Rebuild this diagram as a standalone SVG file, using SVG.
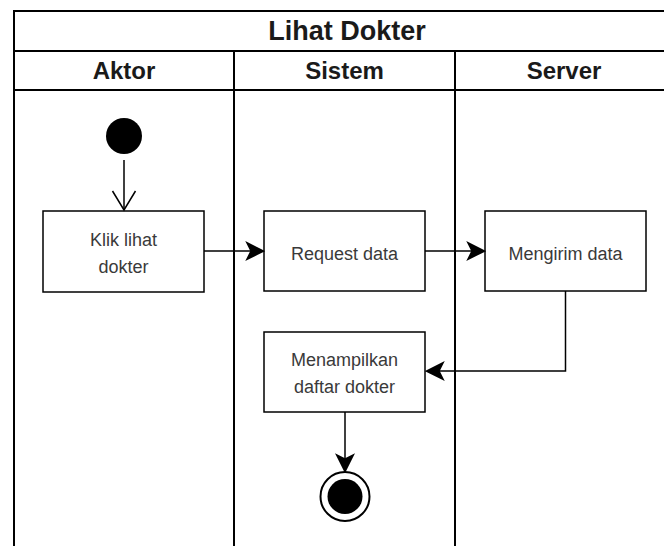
<svg xmlns="http://www.w3.org/2000/svg" width="664" height="546" viewBox="0 0 664 546">
<style>
.frame{fill:none;stroke:#000;stroke-width:2}
.node{fill:#fff;stroke:#000;stroke-width:1.5}
.title{font-family:"Liberation Sans",Arial,sans-serif;font-weight:bold;fill:#1a1a1a;text-anchor:middle}
.lbl{font-family:"Liberation Sans",Arial,sans-serif;font-size:18px;fill:#3a3a3a;text-anchor:middle}
.conn{fill:none;stroke:#000;stroke-width:1.5}
</style>
<defs>
<marker id="arr" markerUnits="userSpaceOnUse" markerWidth="20" markerHeight="20" viewBox="0 0 16 16" refX="11" refY="8" orient="auto">
<path d="M0,0 L16,8 L0,16 L4,8 Z" fill="#000"/>
</marker>
<marker id="open" markerUnits="userSpaceOnUse" markerWidth="24" markerHeight="26" viewBox="-1 -1 22 26" refX="19" refY="11.5" orient="auto">
<path d="M0,0 L19,11.5 L0,23" fill="none" stroke="#000" stroke-width="1.5"/>
</marker>
</defs>
<rect width="664" height="546" fill="#fff"/>
<g id="pool">
<path class="frame" d="M14,546 V11 H680 M14,51 H680 M14,90 H680 M234,51 V546 M455,51 V546"/>
<text class="title" x="347" y="40" font-size="27">Lihat Dokter</text>
<text class="title" x="124" y="79" font-size="24">Aktor</text>
<text class="title" x="344.5" y="79" font-size="24">Sistem</text>
<text class="title" x="564" y="79" font-size="24">Server</text>
</g>
<g id="start"><circle cx="124" cy="136" r="18" fill="#000"/></g>
<g id="klik"><rect class="node" x="43" y="211" width="161" height="81"/>
<text class="lbl" x="123.5" y="246">Klik lihat</text><text class="lbl" x="123.5" y="273">dokter</text></g>
<g id="request"><rect class="node" x="264" y="211" width="161" height="80"/>
<text class="lbl" x="344.5" y="260">Request data</text></g>
<g id="mengirim"><rect class="node" x="485" y="211" width="161" height="80"/>
<text class="lbl" x="565.5" y="260">Mengirim data</text></g>
<g id="menampilkan"><rect class="node" x="264" y="332" width="161" height="80"/>
<text class="lbl" x="344.5" y="366">Menampilkan</text><text class="lbl" x="344.5" y="393">daftar dokter</text></g>
<g id="end"><circle cx="345" cy="496.5" r="24.5" fill="#fff" stroke="#000" stroke-width="2"/><circle cx="345" cy="496.5" r="17.5" fill="#000"/></g>
<g id="connectors">
<path class="conn" d="M124,160 V210" marker-end="url(#open)"/>
<path class="conn" d="M204,251 H259" marker-end="url(#arr)"/>
<path class="conn" d="M425,251 H480" marker-end="url(#arr)"/>
<path class="conn" d="M565.5,291 V371 H431" marker-end="url(#arr)"/>
<path class="conn" d="M345,412 V467" marker-end="url(#arr)"/>
</g>
</svg>
